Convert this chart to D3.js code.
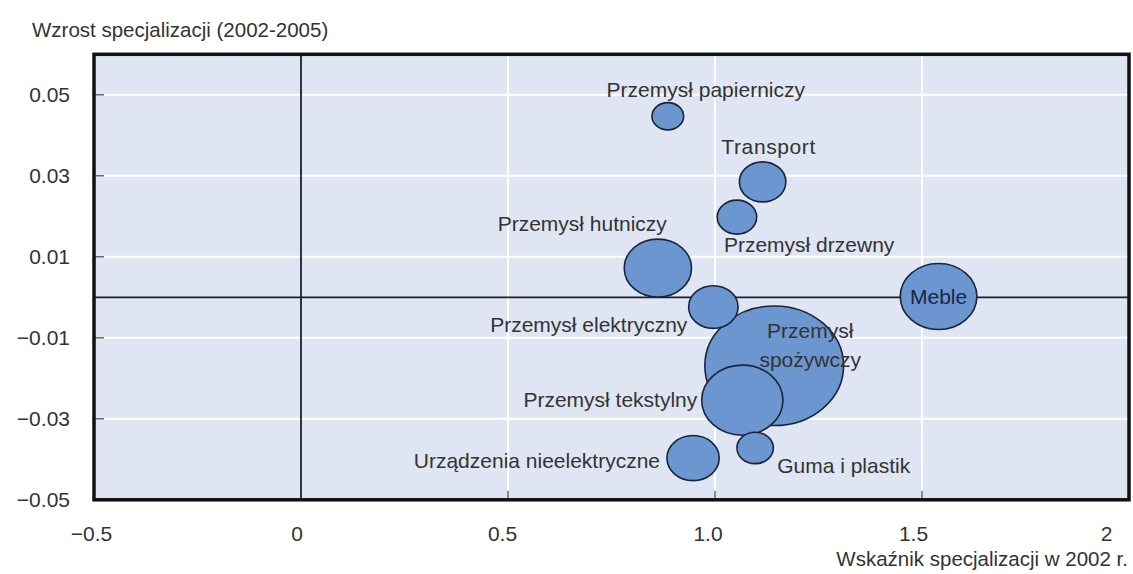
<!DOCTYPE html>
<html>
<head>
<meta charset="utf-8">
<script src="https://cdn.jsdelivr.net/npm/d3@7"></script>
<style>
  body { margin: 0; background: #fff; }
  svg { display: block; font-family: "Liberation Sans", Arial, sans-serif; }
</style>
</head>
<body>
<div id="chart"></div>
<script>
// chart data
const sectors = [
  "Przemysł papierniczy", "Transport", "Przemysł drzewny", "Przemysł hutniczy", "Meble",
  "Przemysł elektryczny", "Przemysł spożywczy", "Przemysł tekstylny", "Guma i plastik",
  "Urządzenia nieelektryczne"
];
const specIndex2002 = [0.886, 1.115, 1.053, 0.862, 1.54, 0.996, 1.143, 1.066, 1.097, 0.947];
const specGrowth = [0.0447, 0.0285, 0.0198, 0.0072, 0.0002, -0.0024, -0.0169, -0.0254, -0.0372, -0.0397];
const bubbleSize = [5.2, 11.2, 8.1, 23.5, 30.5, 12.7, 100, 34.3, 6.9, 14.2];

const xTicks = [-0.5, 0, 0.5, 1, 1.5, 2];
const xTickLabels = ["−0.5", "0", "0.5", "1.0", "1.5", "2"];
const yTicks = [-0.05, -0.03, -0.01, 0.01, 0.03, 0.05];

const yTitle = "Wzrost specjalizacji (2002-2005)";
const xTitle = "Wskaźnik specjalizacji w 2002 r.";

// label placement (pixels from bubble centre)
const labelLayout = [
  { anchor: "middle", dx: 38, dy: -19 },
  { anchor: "middle", dx: 6, dy: -28, spacing: 0.6 },
  { anchor: "start", dx: -13, dy: 35 },
  { anchor: "end", dx: 9, dy: -37 },
  { anchor: "middle", dx: 0, dy: 8, inside: true },
  { anchor: "end", dx: -26, dy: 25 },
  { anchor: "middle", dx: 36, dy: -28, lines: ["Przemysł", "spożywczy"] },
  { anchor: "end", dx: -45, dy: 7 },
  { anchor: "start", dx: 22, dy: 25 },
  { anchor: "end", dx: -33, dy: 10 }
];

const width = 1133;
const height = 574;
const plot = { left: 94, right: 1129, top: 54.3, bottom: 499.8 };

const x = d3.scaleLinear().domain([-0.5, 2]).range([plot.left, plot.right]);
const y = d3.scaleLinear().domain([-0.05, 0.06]).range([plot.bottom, plot.top]);
const r = d3.scaleSqrt().domain([0, 100]).range([0, 59.8]);
const aspect = 1.16;

const data = sectors.map((name, i) => ({
  name, x: specIndex2002[i], y: specGrowth[i], size: bubbleSize[i], layout: labelLayout[i]
}));

const svg = d3.select("#chart").append("svg")
  .attr("width", width)
  .attr("height", height);

svg.append("rect")
  .attr("x", plot.left).attr("y", plot.top)
  .attr("width", plot.right - plot.left).attr("height", plot.bottom - plot.top)
  .attr("fill", "#dfe5f2");

// white grid
const grid = svg.append("g").attr("stroke", "#fff").attr("stroke-width", 2);
grid.selectAll("line.h").data(yTicks.slice(1)).enter().append("line")
  .attr("x1", plot.left).attr("x2", plot.right)
  .attr("y1", d => y(d)).attr("y2", d => y(d));
grid.selectAll("line.v").data(xTicks.filter(d => d > 0 && d < 2)).enter().append("line")
  .attr("x1", d => x(d)).attr("x2", d => x(d))
  .attr("y1", plot.top).attr("y2", plot.bottom);

// inner ticks
const ticks = svg.append("g").attr("stroke", "#4a4f5a").attr("stroke-width", 1.3);
ticks.selectAll("line.yt").data(yTicks.slice(1)).enter().append("line")
  .attr("x1", plot.left).attr("x2", plot.left + 10)
  .attr("y1", d => y(d)).attr("y2", d => y(d));
ticks.selectAll("line.xt").data(xTicks.filter(d => d > 0 && d < 2)).enter().append("line")
  .attr("x1", d => x(d)).attr("x2", d => x(d))
  .attr("y1", plot.bottom - 9).attr("y2", plot.bottom);

// zero lines
svg.append("line")
  .attr("x1", plot.left).attr("x2", plot.right)
  .attr("y1", y(0)).attr("y2", y(0))
  .attr("stroke", "#1b1f2e").attr("stroke-width", 1.8);
svg.append("line")
  .attr("x1", x(0)).attr("x2", x(0))
  .attr("y1", plot.top).attr("y2", plot.bottom)
  .attr("stroke", "#1b1f2e").attr("stroke-width", 1.8);

// bubbles, biggest first
svg.append("g")
  .selectAll("ellipse")
  .data(data.slice().sort((a, b) => b.size - a.size))
  .enter().append("ellipse")
  .attr("cx", d => x(d.x))
  .attr("cy", d => y(d.y))
  .attr("rx", d => r(d.size) * aspect)
  .attr("ry", d => r(d.size))
  .attr("fill", "#6b96d0")
  .attr("stroke", "#1c2439")
  .attr("stroke-width", 1.6);

// labels
const labels = svg.append("g")
  .attr("font-size", "21px");

data.forEach(d => {
  const L = d.layout;
  const lines = L.lines || [d.name];
  lines.forEach((line, k) => {
    labels.append("text")
      .attr("x", x(d.x) + L.dx)
      .attr("y", y(d.y) + L.dy + k * 29)
      .attr("text-anchor", L.anchor)
      .attr("fill", L.inside ? "#1c2744" : "#333")
      .style("letter-spacing", L.spacing ? L.spacing + "px" : null)
      .text(line);
  });
});

// frame
svg.append("rect")
  .attr("x", plot.left).attr("y", plot.top)
  .attr("width", plot.right - plot.left).attr("height", plot.bottom - plot.top)
  .attr("fill", "none")
  .attr("stroke", "#111")
  .attr("stroke-width", 3.5);

// y axis labels
const yAxis = d3.axisLeft(y)
  .tickValues(yTicks)
  .tickFormat(d3.format(".2f"))
  .tickSize(0)
  .tickPadding(0);
svg.append("g")
  .attr("transform", `translate(${plot.left - 24},0)`)
  .call(yAxis)
  .call(g => g.select(".domain").remove())
  .call(g => g.selectAll("text")
    .attr("font-size", "21px")
    .attr("font-family", "'Liberation Sans', Arial, sans-serif")
    .attr("fill", "#333"));

// x axis labels
const xAxis = d3.axisBottom(x)
  .tickValues(xTicks)
  .tickFormat((d, i) => xTickLabels[i])
  .tickSize(0)
  .tickPadding(0);
svg.append("g")
  .attr("transform", `translate(0,${plot.bottom + 26})`)
  .call(xAxis)
  .call(g => g.select(".domain").remove())
  .call(g => g.selectAll("text")
    .attr("font-size", "21px")
    .attr("font-family", "'Liberation Sans', Arial, sans-serif")
    .attr("fill", "#333")
    .attr("dx", (d, i) => i === xTicks.length - 1 ? -23 : -3 - i * 1.5));

// axis titles
svg.append("text")
  .attr("x", 32).attr("y", 37)
  .attr("font-size", "20.5px")
  .attr("fill", "#333")
  .text(yTitle);

svg.append("text")
  .attr("x", plot.right - 1).attr("y", 566)
  .attr("text-anchor", "end")
  .attr("font-size", "20.5px")
  .attr("fill", "#333")
  .text(xTitle);
</script>
</body>
</html>
